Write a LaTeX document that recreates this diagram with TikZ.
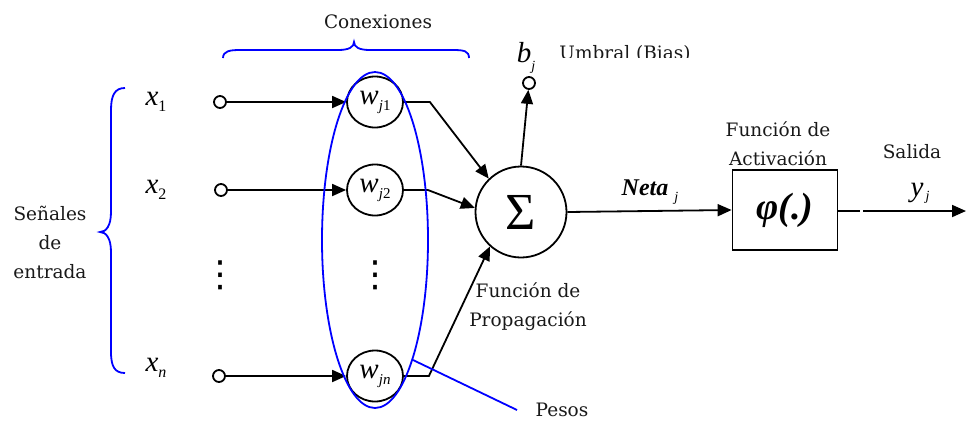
\documentclass[tikz,border=0pt]{standalone}
\usepackage{fontspec}
\setmainfont{DejaVu Serif}
\newfontfamily\tms{Liberation Serif}
\newfontfamily\djs{DejaVu Sans}
\usetikzlibrary{arrows.meta,shapes.geometric}
\newcommand{\lbl}{\fontsize{18.5}{29}\selectfont}
\newcommand{\wsub}[1]{{\fontsize{29}{29}\selectfont\tms\itshape w}\raisebox{-6pt}{\fontsize{15}{15}\selectfont\tms #1}}
\newcommand{\xsub}[1]{{\fontsize{29}{29}\selectfont\tms\itshape x}\raisebox{-6pt}{\fontsize{16}{16}\selectfont\tms #1}}
\begin{document}
\begin{tikzpicture}[x=1pt,y=-1pt,
  line width=1.8pt,
  arr/.style={-{Triangle[length=14pt,width=12pt]}},
  port/.style={circle,draw,minimum size=12pt,inner sep=0pt},
  wnode/.style={ellipse,draw,minimum width=56pt,minimum height=51pt,inner sep=0pt},
  txt/.style={font=\lbl,align=center,text=black!90},
  dotstack/.style={inner sep=0pt,font=\fontsize{36}{36}\selectfont\djs},
  blue line/.style={draw=blue,line width=1.8pt}]
\useasboundingbox (0,0) rectangle (966,421);

% texts
\node[txt] (conex) at (378,22) {Conexiones};
\node[txt] (senales) at (50,242) {Señales\\de\\entrada};
\node[txt] (fprop) at (528,307) {Función de\\Propagación};
\node[txt] (fact) at (778,144) {Función de\\Activación};
\node[txt] (salida) at (912,152) {Salida};
\node[txt] (pesos) at (562,410) {Pesos};
\begin{scope}
\clip (550,30) rectangle (705,57);
\node[txt,anchor=base] (umbral) at (625,59) {Umbral (Bias)};
\end{scope}

% input labels
\node (x1) at (156,102) {\xsub{1}};
\node (x2) at (156,190) {\xsub{2}};
\node (xn) at (156,368) {\xsub{\itshape n}};
\node[dotstack] (vd1) at (220,275) {⋮};
\node[dotstack] (vd2) at (375,275) {⋮};

% input ports
\node[port] (p1) at (220,102) {};
\node[port] (p2) at (221,190) {};
\node[port] (pn) at (219,376) {};

% weights
\node[wnode] (w1) at (375,102) {\wsub{\itshape j\upshape 1}};
\node[wnode] (w2) at (375,190) {\wsub{\itshape j\upshape 2}};
\node[wnode] (wn) at (375,376) {\wsub{\itshape jn}};

% sum
\node[circle,draw,minimum size=91pt,inner sep=0pt,font=\fontsize{52}{52}\selectfont\tms] (sig) at (521,212) {\raisebox{-5pt}{Σ}};

% bias
\node[port] (bias) at (529,83) {};
\node (bj) at (526,58) {{\fontsize{29}{29}\selectfont\tms\itshape b}\raisebox{-8pt}{\fontsize{14}{14}\selectfont\tms\itshape j}};

% activation box
\node[draw,minimum width=105pt,minimum height=80pt,inner sep=0pt,font=\fontsize{38}{38}\selectfont\tms\bfseries\itshape] (act) at (785,210) {φ(.)};

\node (neta) at (650,192) {{\fontsize{24}{24}\selectfont\tms\bfseries\itshape Neta}\hspace{6pt}\raisebox{-6pt}{\fontsize{14}{14}\selectfont\tms\itshape j}};
\node (yj) at (920,193) {{\fontsize{29}{29}\selectfont\tms\itshape y}\hspace{2pt}\raisebox{-4pt}{\fontsize{14}{14}\selectfont\tms\itshape j}};

% connectors
\draw[arr] (p1) -- (w1);
\draw[arr] (p2) -- (w2);
\draw[arr] (pn) -- (wn);
\draw[arr] (w1.east) -- ++(26,0) -- (sig.134);
\draw[arr] (w2.east) -- ++(24,0) -- (sig.175);
\draw[arr] (wn.east) -- ++(25,0) -- (sig.228);
\draw[arr] (sig.north) -- (bias);
\draw[arr] (sig.east) -- (act.west);
\coordinate (o1) at (860,211);
\coordinate (o2) at (863,211);
\coordinate (o3) at (966,211);
\draw (act.east |- o1) -- (o1);
\draw[arr] (o2) -- (o3);

% blue annotations
\node[ellipse,blue line,minimum width=106pt,minimum height=336pt,inner sep=0pt] (group) at (375,240) {};
\coordinate (pe1) at (413,360);
\coordinate (pe2) at (517,410);
\draw[blue line] (pe1) -- (pe2);
\draw[blue line] (223,58) .. controls (223,51) and (230,50) .. (240,50) -- (338,50) .. controls (349,50) and (354,47) .. (354,42) .. controls (354,47) and (359,50) .. (370,50) -- (453,50) .. controls (464,50) and (469,51) .. (469,58);
\draw[blue line] (125,88) .. controls (115,88) and (111,95) .. (111,110) -- (111,212) .. controls (111,226) and (106,232) .. (100,232) .. controls (106,232) and (111,238) .. (111,252) -- (111,352) .. controls (111,367) and (115,373) .. (125,373);
\end{tikzpicture}
\end{document}
